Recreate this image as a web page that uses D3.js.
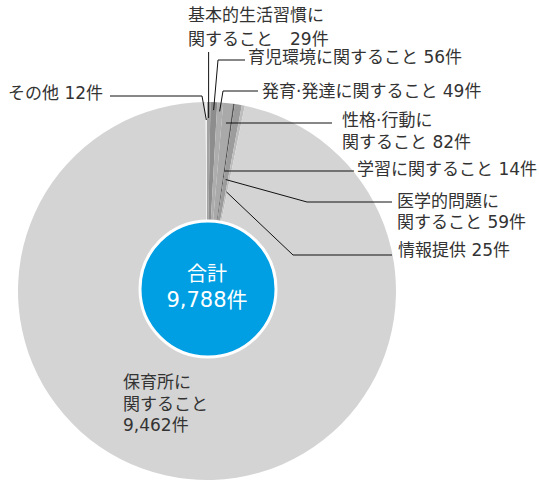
<!DOCTYPE html>
<html>
<head>
<meta charset="utf-8">
<script src="https://cdn.jsdelivr.net/npm/d3@7"></script>
<style>
  body { margin: 0; background: #fff; }
  svg { display: block; }
  text { font-family: "DejaVu Sans", "Noto Sans CJK JP", sans-serif; fill: #333; }
</style>
</head>
<body>
<svg id="chart" width="539" height="482"></svg>
<script>
// Data
const categories = ["基本的生活習慣", "育児環境", "発育・発達", "性格・行動", "学習", "医学的問題", "情報提供", "保育所", "その他"];
const counts = [29, 56, 49, 82, 14, 59, 25, 9462, 12];
const colors = ["#a3a3a3", "#8d8d8d", "#adadad", "#a9a9a9", "#555555", "#9c9c9c", "#bdbdbd", "#d4d4d4", "#eeeeee"];

const fmt = d3.format(",");
const total = d3.sum(counts);

// label text per slice
const labelText = [
  n => ["基本的生活習慣に", "関すること　" + n + "件"],
  n => ["育児環境に関すること " + n + "件"],
  n => ["発育·発達に関すること " + n + "件"],
  n => ["性格·行動に", "関すること " + n + "件"],
  n => ["学習に関すること " + n + "件"],
  n => ["医学的問題に", "関すること " + n + "件"],
  n => ["情報提供 " + n + "件"],
  n => ["保育所に", "関すること", fmt(n) + "件"],
  n => ["その他 " + n + "件"]
];

// layout
const cx = 207, cy = 291, R = 189;
const labelPos = [
  {x: 188, y: [15, 39]},
  {x: 248, y: [57]},
  {x: 262, y: [91]},
  {x: 342, y: [120, 142]},
  {x: 357, y: [169]},
  {x: 397, y: [201, 222]},
  {x: 398, y: [250]},
  {x: 123, y: [382, 404, 425]},
  {x: 8,   y: [93]}
];
const leaders = [
  {r: 173, up: 52},
  {r: 181, path: [[218, 60], [245, 60]]},
  {r: 180, path: [[223, 91], [258, 91]]},
  {y: 123, path: [[332, 123]]},
  {y: 171, path: [[354, 171]]},
  {r: 113, path: [[307, 202], [392, 202]]},
  {r: 101, path: [[293, 255], [392, 255]]},
  null,
  {r: 171, path: [[202, 96], [110, 96]]}
];

const svg = d3.select("#chart");

const arcs = d3.pie().sort(null).value(d => d)(counts);
const arc = d3.arc().innerRadius(0).outerRadius(R);

const g = svg.append("g").attr("transform", `translate(${cx},${cy})`);
g.selectAll("path.slice")
  .data(arcs)
  .enter().append("path")
    .attr("class", "slice")
    .attr("d", arc)
    .attr("fill", (d, i) => colors[i]);

// leader lines
function arcPoint(a, r) { return [cx + r * Math.sin(a), cy - r * Math.cos(a)]; }
const line = d3.line();
arcs.forEach((d, i) => {
  const l = leaders[i];
  if (!l) return;
  const a = (d.startAngle + d.endAngle) / 2;
  const r = l.y !== undefined ? (cy - l.y) / Math.cos(a) : l.r;
  const p0 = arcPoint(a, r);
  const pts = l.up !== undefined ? [p0, [p0[0], l.up]] : [p0].concat(l.path);
  svg.append("path")
    .attr("d", line(pts))
    .attr("fill", "none")
    .attr("stroke", "#111")
    .attr("stroke-width", 1);
});

// labels
arcs.forEach((d, i) => {
  const lines = labelText[i](counts[i]);
  const pos = labelPos[i];
  const t = svg.append("text")
    .attr("font-size", 17)
    .attr("dominant-baseline", "central");
  lines.forEach((s, j) => {
    t.append("tspan").attr("x", pos.x).attr("y", pos.y[j]).text(s);
  });
});

// total circle
svg.append("circle")
  .attr("cx", 208).attr("cy", 289).attr("r", 68)
  .attr("fill", "#009fe3")
  .attr("stroke", "#fff")
  .attr("stroke-width", 3);

const tt = svg.append("text")
  .attr("text-anchor", "middle")
  .attr("dominant-baseline", "central")
  .attr("font-size", 20)
  .style("fill", "#fff");
tt.append("tspan").attr("x", 207).attr("y", 274).text("合計");
tt.append("tspan").attr("x", 207).attr("y", 300).attr("font-size", 21).text(fmt(total) + "件");
</script>
</body>
</html>
